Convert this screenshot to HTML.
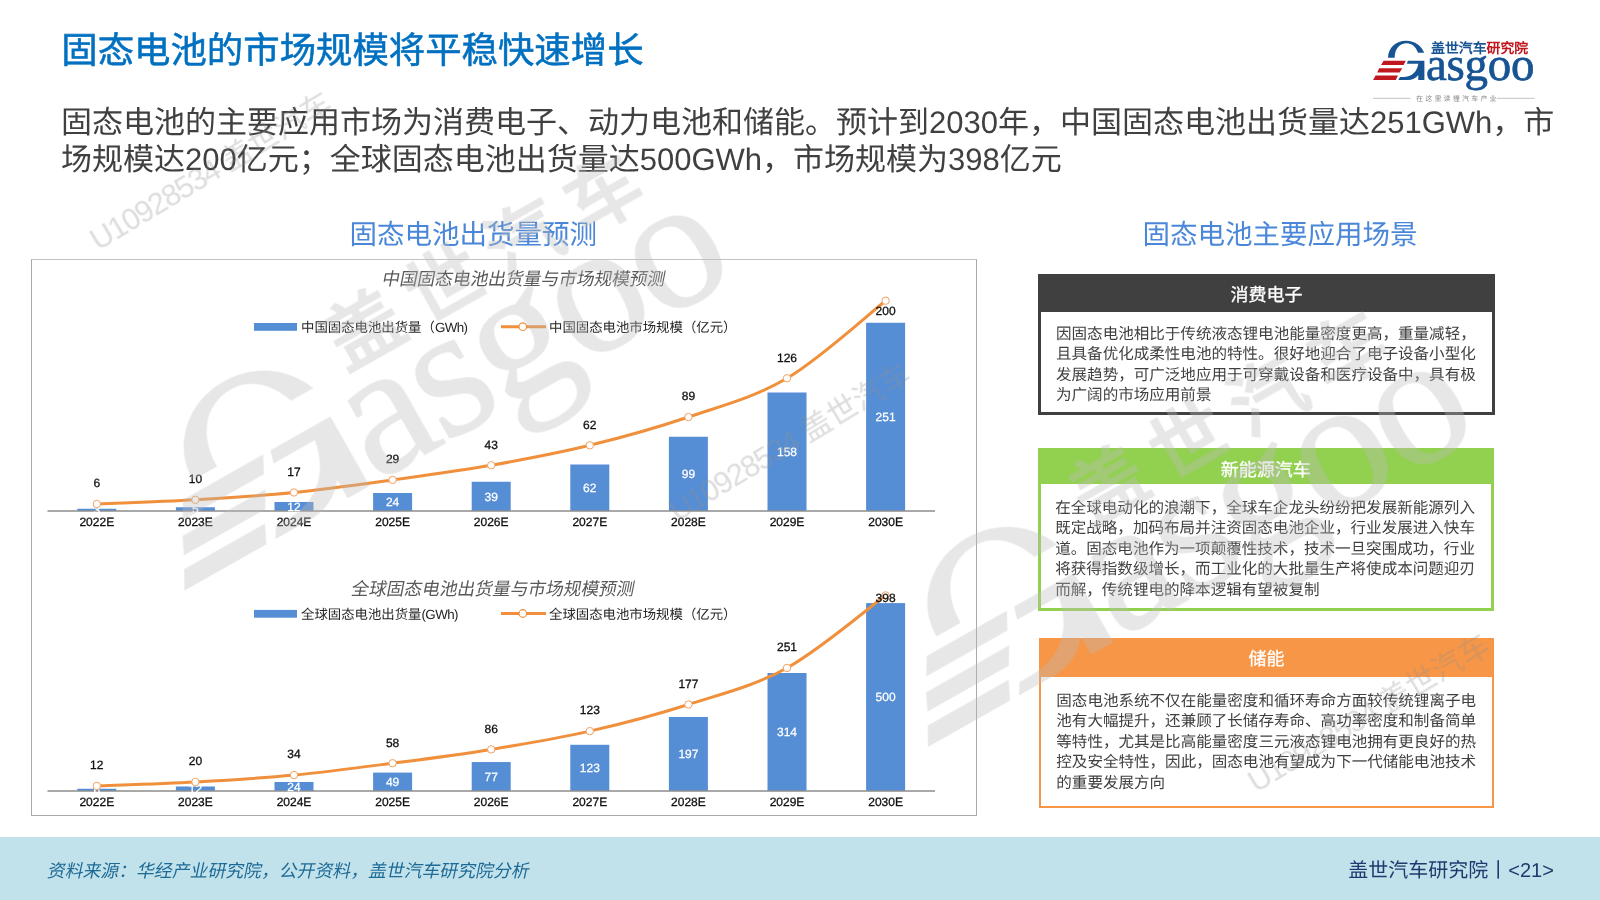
<!DOCTYPE html>
<html lang="zh-CN"><head><meta charset="utf-8">
<style>
*{margin:0;padding:0;box-sizing:border-box}
html,body{width:1600px;height:900px;overflow:hidden;background:#fff}
body{position:relative;font-family:"Liberation Sans", sans-serif;text-rendering:geometricPrecision}
.a{position:absolute;white-space:nowrap}
#title{left:61.3px;top:29px;font-size:36.4px;line-height:44px;color:#0070C0;-webkit-text-stroke:0.55px #0070C0}
#sub{left:61px;top:105.4px;font-size:31px;line-height:36.5px;color:#404040}
.h2{font-size:27.5px;line-height:34px;color:#4A87D8;top:217.8px}
#chartbox{left:31px;top:259px;width:946px;height:557px;border:1px solid #a9a9a9;border-top-color:#c2c2c2}
svg text{font-family:"Liberation Sans", sans-serif}
.bl{font-size:12px;fill:#fff;stroke:#fff;stroke-width:0.25px;text-anchor:middle}
.ll{font-size:12px;fill:#111;stroke:#111;stroke-width:0.3px;text-anchor:middle}
.xl{font-size:12px;fill:#111;stroke:#111;stroke-width:0.3px;text-anchor:middle}
.box{position:absolute;background:#fff}
.hd{position:absolute;left:0;right:0;top:0;color:#fff;text-align:center;font-size:18px;-webkit-text-stroke:0.3px #fff}
.bd{position:absolute;font-size:15.55px;line-height:20.4px;color:#404040;white-space:nowrap}
#footer{left:0;top:837px;width:1600px;height:63px;background:#C2E2EB}
</style></head><body>
<div id="root" style="position:absolute;left:0;top:0;width:1600px;height:900px;will-change:transform">
<div class="a" id="title">固态电池的市场规模将平稳快速增长</div>
<div class="a" id="sub">固态电池的主要应用市场为消费电子、动力电池和储能。预计到2030年，中国固态电池出货量达251GWh，市<br>场规模达200亿元；全球固态电池出货量达500GWh，市场规模为398亿元</div>
<div class="a h2" style="left:349.4px">固态电池出货量预测</div>
<div class="a h2" style="left:1142.4px">固态电池主要应用场景</div>
<div class="a" id="chartbox"></div>
<svg class="a" style="left:0;top:0" width="1600" height="900" viewBox="0 0 1600 900">
<text x="522.75" y="284.5" transform="translate(522.75 284.5) skewX(-11) translate(-522.75 -284.5)" style="font-size:17.7px;fill:#595959;text-anchor:middle">中国固态电池出货量与市场规模预测</text>
<text x="492" y="594.5" transform="translate(492 594.5) skewX(-11) translate(-492 -594.5)" style="font-size:17.7px;fill:#595959;text-anchor:middle">全球固态电池出货量与市场规模预测</text>
<rect x="254" y="323" width="43" height="7.8" fill="#558ED5"/>
<text x="301" y="332" style="font-size:13.4px;fill:#262626">中国固态电池出货量（<tspan style="letter-spacing:-0.6px">GWh)</tspan></text>
<line x1="501" y1="326.7" x2="546" y2="326.7" stroke="#F0903C" stroke-width="3"/>
<circle cx="522.8" cy="326.7" r="3.8" fill="#fff" stroke="#F0903C" stroke-width="1.2"/>
<text x="549" y="332" style="font-size:13.4px;fill:#262626">中国固态电池市场规模（亿元）</text>
<rect x="254" y="609.9" width="43" height="7.8" fill="#558ED5"/>
<text x="301" y="619" style="font-size:13.4px;fill:#262626">全球固态电池出货量<tspan style="letter-spacing:-0.6px">(GWh)</tspan></text>
<line x1="501" y1="613.5" x2="546" y2="613.5" stroke="#F0903C" stroke-width="3"/>
<circle cx="522.8" cy="613.5" r="3.8" fill="#fff" stroke="#F0903C" stroke-width="1.2"/>
<text x="549" y="619" style="font-size:13.4px;fill:#262626">全球固态电池市场规模（亿元）</text>
<rect x="77.30" y="508.75" width="39" height="2.25" fill="#558ED5"/>
<rect x="175.90" y="507.25" width="39" height="3.75" fill="#558ED5"/>
<rect x="274.50" y="502.00" width="39" height="9.00" fill="#558ED5"/>
<rect x="373.10" y="493.00" width="39" height="18.00" fill="#558ED5"/>
<rect x="471.70" y="481.75" width="39" height="29.25" fill="#558ED5"/>
<rect x="570.30" y="464.50" width="39" height="46.50" fill="#558ED5"/>
<rect x="668.90" y="436.75" width="39" height="74.25" fill="#558ED5"/>
<rect x="767.50" y="392.50" width="39" height="118.50" fill="#558ED5"/>
<rect x="866.10" y="322.75" width="39" height="188.25" fill="#558ED5"/>
<line x1="47.5" y1="511.0" x2="935" y2="511.0" stroke="#8c8c8c" stroke-width="1.3"/>
<text x="96.80" y="514.17" class="bl">3</text>
<text x="195.40" y="513.42" class="bl">5</text>
<text x="294.00" y="510.80" class="bl">12</text>
<text x="392.60" y="506.30" class="bl">24</text>
<text x="491.20" y="500.68" class="bl">39</text>
<text x="589.80" y="492.05" class="bl">62</text>
<text x="688.40" y="478.18" class="bl">99</text>
<text x="787.00" y="456.05" class="bl">158</text>
<text x="885.60" y="421.18" class="bl">251</text>
<path d="M96.80 504.01 C113.23 503.31 162.53 501.74 195.40 499.82 C228.27 497.90 261.13 495.80 294.00 492.48 C326.87 489.17 359.73 484.45 392.60 479.91 C425.47 475.37 458.33 471.00 491.20 465.24 C524.07 459.47 556.93 453.36 589.80 445.32 C622.67 437.29 655.53 428.21 688.40 417.03 C721.27 405.85 754.13 397.64 787.00 378.25 C819.87 358.86 869.17 313.63 885.60 300.70" fill="none" stroke="#F0903C" stroke-width="3" stroke-linecap="round"/>
<circle cx="96.80" cy="504.01" r="3.7" fill="#fff" stroke="#F3A060" stroke-width="1"/>
<circle cx="195.40" cy="499.82" r="3.7" fill="#fff" stroke="#F3A060" stroke-width="1"/>
<circle cx="294.00" cy="492.48" r="3.7" fill="#fff" stroke="#F3A060" stroke-width="1"/>
<circle cx="392.60" cy="479.91" r="3.7" fill="#fff" stroke="#F3A060" stroke-width="1"/>
<circle cx="491.20" cy="465.24" r="3.7" fill="#fff" stroke="#F3A060" stroke-width="1"/>
<circle cx="589.80" cy="445.32" r="3.7" fill="#fff" stroke="#F3A060" stroke-width="1"/>
<circle cx="688.40" cy="417.03" r="3.7" fill="#fff" stroke="#F3A060" stroke-width="1"/>
<circle cx="787.00" cy="378.25" r="3.7" fill="#fff" stroke="#F3A060" stroke-width="1"/>
<circle cx="885.60" cy="300.70" r="3.7" fill="#fff" stroke="#F3A060" stroke-width="1"/>
<text x="96.80" y="487.31" class="ll">6</text>
<text x="195.40" y="483.12" class="ll">10</text>
<text x="294.00" y="475.78" class="ll">17</text>
<text x="392.60" y="463.21" class="ll">29</text>
<text x="491.20" y="448.54" class="ll">43</text>
<text x="589.80" y="428.62" class="ll">62</text>
<text x="688.40" y="400.33" class="ll">89</text>
<text x="787.00" y="361.55" class="ll">126</text>
<text x="885.60" y="315.00" class="ll">200</text>
<text x="96.80" y="525.50" class="xl">2022E</text>
<text x="195.40" y="525.50" class="xl">2023E</text>
<text x="294.00" y="525.50" class="xl">2024E</text>
<text x="392.60" y="525.50" class="xl">2025E</text>
<text x="491.20" y="525.50" class="xl">2026E</text>
<text x="589.80" y="525.50" class="xl">2027E</text>
<text x="688.40" y="525.50" class="xl">2028E</text>
<text x="787.00" y="525.50" class="xl">2029E</text>
<text x="885.60" y="525.50" class="xl">2030E</text>
<rect x="77.30" y="788.75" width="39" height="2.25" fill="#558ED5"/>
<rect x="175.90" y="786.49" width="39" height="4.51" fill="#558ED5"/>
<rect x="274.50" y="781.98" width="39" height="9.02" fill="#558ED5"/>
<rect x="373.10" y="772.59" width="39" height="18.41" fill="#558ED5"/>
<rect x="471.70" y="762.06" width="39" height="28.94" fill="#558ED5"/>
<rect x="570.30" y="744.78" width="39" height="46.22" fill="#558ED5"/>
<rect x="668.90" y="716.97" width="39" height="74.03" fill="#558ED5"/>
<rect x="767.50" y="673.00" width="39" height="118.00" fill="#558ED5"/>
<rect x="866.10" y="603.10" width="39" height="187.90" fill="#558ED5"/>
<line x1="47.5" y1="791.0" x2="935" y2="791.0" stroke="#8c8c8c" stroke-width="1.3"/>
<text x="96.80" y="794.17" class="bl">6</text>
<text x="195.40" y="793.05" class="bl">12</text>
<text x="294.00" y="790.79" class="bl">24</text>
<text x="392.60" y="786.09" class="bl">49</text>
<text x="491.20" y="780.83" class="bl">77</text>
<text x="589.80" y="772.19" class="bl">123</text>
<text x="688.40" y="758.28" class="bl">197</text>
<text x="787.00" y="736.30" class="bl">314</text>
<text x="885.60" y="701.35" class="bl">500</text>
<path d="M96.80 785.93 C113.23 785.27 162.53 783.79 195.40 781.98 C228.27 780.17 261.13 778.19 294.00 775.07 C326.87 771.94 359.73 767.50 392.60 763.22 C425.47 758.94 458.33 754.75 491.20 749.40 C524.07 744.05 556.93 738.62 589.80 731.14 C622.67 723.65 655.53 715.01 688.40 704.48 C721.27 693.95 754.13 686.14 787.00 667.96 C819.87 649.78 869.17 607.49 885.60 595.40" fill="none" stroke="#F0903C" stroke-width="3" stroke-linecap="round"/>
<circle cx="96.80" cy="785.93" r="3.7" fill="#fff" stroke="#F3A060" stroke-width="1"/>
<circle cx="195.40" cy="781.98" r="3.7" fill="#fff" stroke="#F3A060" stroke-width="1"/>
<circle cx="294.00" cy="775.07" r="3.7" fill="#fff" stroke="#F3A060" stroke-width="1"/>
<circle cx="392.60" cy="763.22" r="3.7" fill="#fff" stroke="#F3A060" stroke-width="1"/>
<circle cx="491.20" cy="749.40" r="3.7" fill="#fff" stroke="#F3A060" stroke-width="1"/>
<circle cx="589.80" cy="731.14" r="3.7" fill="#fff" stroke="#F3A060" stroke-width="1"/>
<circle cx="688.40" cy="704.48" r="3.7" fill="#fff" stroke="#F3A060" stroke-width="1"/>
<circle cx="787.00" cy="667.96" r="3.7" fill="#fff" stroke="#F3A060" stroke-width="1"/>
<circle cx="885.60" cy="595.40" r="3.7" fill="#fff" stroke="#F3A060" stroke-width="1"/>
<text x="96.80" y="769.23" class="ll">12</text>
<text x="195.40" y="765.28" class="ll">20</text>
<text x="294.00" y="758.37" class="ll">34</text>
<text x="392.60" y="746.52" class="ll">58</text>
<text x="491.20" y="732.70" class="ll">86</text>
<text x="589.80" y="714.44" class="ll">123</text>
<text x="688.40" y="687.78" class="ll">177</text>
<text x="787.00" y="651.26" class="ll">251</text>
<text x="885.60" y="602.00" class="ll">398</text>
<text x="96.80" y="805.50" class="xl">2022E</text>
<text x="195.40" y="805.50" class="xl">2023E</text>
<text x="294.00" y="805.50" class="xl">2024E</text>
<text x="392.60" y="805.50" class="xl">2025E</text>
<text x="491.20" y="805.50" class="xl">2026E</text>
<text x="589.80" y="805.50" class="xl">2027E</text>
<text x="688.40" y="805.50" class="xl">2028E</text>
<text x="787.00" y="805.50" class="xl">2029E</text>
<text x="885.60" y="805.50" class="xl">2030E</text>
</svg>

<div class="box" style="left:1038px;top:274px;width:457px;height:141px;border:3.5px solid #404040">
 <div class="hd" style="height:34.5px;background:#404040;line-height:37px">消费电子</div>
 <div class="bd" style="left:15px;top:48px">因固态电池相比于传统液态锂电池能量密度更高，重量减轻，<br>且具备优化成柔性电池的特性。很好地迎合了电子设备小型化<br>发展趋势，可广泛地应用于可穿戴设备和医疗设备中，具有极<br>为广阔的市场应用前景</div>
</div>
<div class="box" style="left:1037.5px;top:448px;width:456.5px;height:162.6px;border:3.5px solid #92D050">
 <div class="hd" style="height:33px;background:#92D050;line-height:38px">新能源汽车</div>
 <div class="bd" style="left:14.7px;top:48px">在全球电动化的浪潮下，全球车企龙头纷纷把发展新能源列入<br>既定战略，加码布局并注资固态电池企业，行业发展进入快车<br>道。固态电池作为一项颠覆性技术，技术一旦突围成功，行业<br>将获得指数级增长，而工业化的大批量生产将使成本问题迎刃<br>而解，传统锂电的降本逻辑有望被复制</div>
</div>
<div class="box" style="left:1039px;top:638px;width:455px;height:170.4px;border:2.5px solid #F79646">
 <div class="hd" style="height:37px;background:#F79646;line-height:38px">储能</div>
 <div class="bd" style="left:15.3px;top:52px">固态电池系统不仅在能量密度和循环寿命方面较传统锂离子电<br>池有大幅提升，还兼顾了长储存寿命、高功率密度和制备简单<br>等特性，尤其是比高能量密度三元液态锂电池拥有更良好的热<br>控及安全特性，因此，固态电池有望成为下一代储能电池技术<br>的重要发展方向</div>
</div>

<svg class="a" style="left:0;top:0;pointer-events:none" width="1600" height="900" viewBox="0 0 1600 900">
<style>.wlb,.wlr{fill:#bdbdbd} .wlt{font-family:"Liberation Serif",serif;font-size:45px;fill:#bdbdbd;stroke:#bdbdbd;stroke-width:0.3px;letter-spacing:-1px}</style>
<g opacity="0.36">
<g transform="translate(184.40 590.70) rotate(-29.50) scale(4.150) translate(-3.10 -43.90)"><path d="M18 21.7 C18 12 26 4.7 36.1 4.7 C45 4.7 51.5 10 54.2 16.7 L48 16.7 C46 11 42 7.2 36.8 7.2 C29.5 7.2 24.7 13 24.7 21.7 Z" class="wlb"/>
<path d="M37.8 24.7 L54.4 24.7 L54.4 43.9 L48.3 43.9 L48.3 38.9 C45.6 42.2 42.2 43.9 37.8 43.9 L28.3 43.9 L30 41.1 L33.3 41.1 C41.7 41.1 47.2 35.6 48.3 27.8 L36.9 27.8 Z" class="wlb"/>
<path d="M13.6 24.7 L35.8 24.7 L33.6 28.9 L11.1 28.9 Z M9.2 32.2 L32.2 32.2 L29.7 36.4 L7.2 36.4 Z M5.6 39.4 L28 39.4 L25.8 43.9 L3.1 43.9 Z" class="wlr"/>
<text x="56" y="43.9" class="wlt">asgoo</text><text x="63" y="17" style="font-size:18px;letter-spacing:4px;font-weight:bold;fill:#bdbdbd">盖世汽车</text></g>
<g transform="translate(928.00 747.00) rotate(-29.50) scale(4.150) translate(-3.10 -43.90)"><path d="M18 21.7 C18 12 26 4.7 36.1 4.7 C45 4.7 51.5 10 54.2 16.7 L48 16.7 C46 11 42 7.2 36.8 7.2 C29.5 7.2 24.7 13 24.7 21.7 Z" class="wlb"/>
<path d="M37.8 24.7 L54.4 24.7 L54.4 43.9 L48.3 43.9 L48.3 38.9 C45.6 42.2 42.2 43.9 37.8 43.9 L28.3 43.9 L30 41.1 L33.3 41.1 C41.7 41.1 47.2 35.6 48.3 27.8 L36.9 27.8 Z" class="wlb"/>
<path d="M13.6 24.7 L35.8 24.7 L33.6 28.9 L11.1 28.9 Z M9.2 32.2 L32.2 32.2 L29.7 36.4 L7.2 36.4 Z M5.6 39.4 L28 39.4 L25.8 43.9 L3.1 43.9 Z" class="wlr"/>
<text x="56" y="43.9" class="wlt">asgoo</text><text x="63" y="17" style="font-size:18px;letter-spacing:4px;font-weight:bold;fill:#bdbdbd">盖世汽车</text></g>
</g>
<text transform="translate(98 251) rotate(-31)" style="font-size:30.5px;fill:#8f8f8f;opacity:0.3"><tspan style="letter-spacing:-1.4px">U10928534</tspan> 盖世汽车</text>
<text transform="translate(677 522) rotate(-31)" style="font-size:30.5px;fill:#8f8f8f;opacity:0.3"><tspan style="letter-spacing:-1.4px">U10928534</tspan> 盖世汽车</text>
<text transform="translate(1256 793) rotate(-31)" style="font-size:30.5px;fill:#8f8f8f;opacity:0.3"><tspan style="letter-spacing:-1.4px">U10928534</tspan> 盖世汽车</text>
</svg>
<svg class="a" style="left:1370px;top:36px;overflow:visible" width="170" height="70" viewBox="0 0 170 70">
<style>.lb{fill:#175493} .lr{fill:#C0171F} .lt{font-family:"Liberation Serif",serif;font-size:47px;fill:#175493;stroke:#175493;stroke-width:0.7px;letter-spacing:-0.3px}</style>
<path d="M18 21.7 C18 12 26 4.7 36.1 4.7 C45 4.7 51.5 10 54.2 16.7 L48 16.7 C46 11 42 7.2 36.8 7.2 C29.5 7.2 24.7 13 24.7 21.7 Z" class="lb"/>
<path d="M37.8 24.7 L54.4 24.7 L54.4 43.9 L48.3 43.9 L48.3 38.9 C45.6 42.2 42.2 43.9 37.8 43.9 L28.3 43.9 L30 41.1 L33.3 41.1 C41.7 41.1 47.2 35.6 48.3 27.8 L36.9 27.8 Z" class="lb"/>
<path d="M13.6 24.7 L35.8 24.7 L33.6 28.9 L11.1 28.9 Z M9.2 32.2 L32.2 32.2 L29.7 36.4 L7.2 36.4 Z M5.6 39.4 L28 39.4 L25.8 43.9 L3.1 43.9 Z" class="lr"/>
<text x="56" y="43.9" class="lt">asgoo</text>
<text x="61" y="16.6" style="font-size:13.9px;font-weight:bold;fill:#175493">盖世汽车<tspan style="fill:#C0171F">研究院</tspan></text>
<line x1="3" y1="62.3" x2="40.5" y2="62.3" stroke="#999" stroke-width="0.6"/>
<line x1="126.6" y1="62.3" x2="164.6" y2="62.3" stroke="#999" stroke-width="0.6"/>
<text x="46" y="64.8" style="font-size:7px;fill:#888;letter-spacing:2.2px">在这里读懂汽车产业</text>
</svg>
<div class="a" id="footer"></div>
<div class="a" style="left:47px;top:859px;font-size:17.85px;line-height:24px;color:#1D6A96;transform:skewX(-12deg);transform-origin:0 17px">资料来源：华经产业研究院，公开资料，盖世汽车研究院分析</div>
<div class="a" style="left:1348.3px;top:857.6px;font-size:20px;line-height:26px;color:#1F3A6E">盖世汽车研究院丨&lt;21&gt;</div>
</div>
</body></html>
